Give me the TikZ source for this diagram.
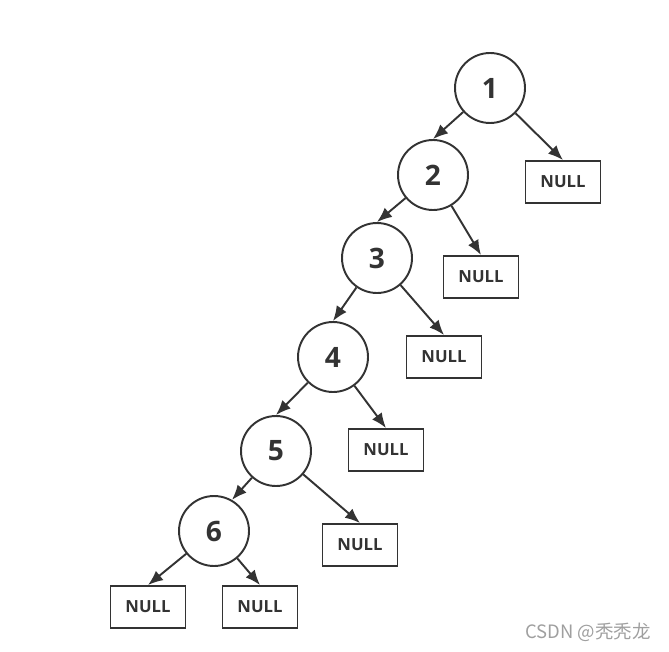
\documentclass[tikz,border=0pt]{standalone}
\usepackage{fontspec}
\setmainfont{Open Sans}
\newfontfamily\cjk{Noto Sans CJK SC}
\usepackage{tikz}
\tikzset{every picture/.style={line width=1.1pt}}
\usetikzlibrary{positioning, calc, arrows.meta}

\definecolor{inkgray}{HTML}{333333}

\begin{document}
\begin{tikzpicture}[
		x=0.02cm, y=-0.02cm,
		% Tree node style
		bnode/.style={
			circle,
			draw=inkgray,
			minimum size=1.4cm,
			inner sep=0pt,
			font=\bfseries\fontsize{16}{18}\selectfont,
			text=inkgray
		},
		% Empty child box
		nullbox/.style={
			rectangle,
			draw=inkgray,
			minimum width=1.5cm,
			minimum height=0.84cm,
			inner sep=0pt,
			font=\bfseries\fontsize{9.5}{11}\selectfont,
			text=inkgray
		},
		% Child pointer
		link/.style={
			draw=inkgray,
			-{Latex[length=3mm,width=2.4mm]}
		}
		]
		
		% Canvas
		\useasboundingbox (0,0) rectangle (669,652);
		
		% --- Tree nodes ---
		\node[bnode] (n1) at (490,88) {1};
		\node[bnode] (n2) at (433,175) {2};
		\node[bnode] (n3) at (377,258) {3};
		\node[bnode] (n4) at (333,357) {4};
		\node[bnode] (n5) at (276,451) {5};
		\node[bnode] (n6) at (214,531) {6};
		
		% --- NULL children ---
		\node[nullbox] (z1) at (563,182) {NULL};
		\node[nullbox] (z2) at (481,277) {NULL};
		\node[nullbox] (z3) at (444,357) {NULL};
		\node[nullbox] (z4) at (386,450) {NULL};
		\node[nullbox] (z5) at (360,545) {NULL};
		\node[nullbox] (z6) at (148,607) {NULL};
		\node[nullbox] (z7) at (260,607) {NULL};
		
		% --- Pointers ---
		\draw[link] (n1) -- (n2.north);
		\draw[link] (n1) -- (z1.north);
		\draw[link] (n2) -- (n3.north);
		\draw[link] (n2) -- (z2.north);
		\draw[link] (n3) -- (n4.north);
		\draw[link] (n3) -- (z3.north);
		\draw[link] (n4) -- (n5.north);
		\draw[link] (n4) -- (z4.north);
		\draw[link] (n5) -- (n6.60);
		\draw[link] (n5) -- (z5.north);
		\draw[link] (n6) -- (z6.north);
		\draw[link] (n6) -- (z7.north);
		
		% --- Watermark ---
		\node[gray!75, font=\cjk\fontsize{10.5}{12}\selectfont] (mark) at (588,632) {CSDN @秃秃龙};
		
	\end{tikzpicture}
\end{document}
